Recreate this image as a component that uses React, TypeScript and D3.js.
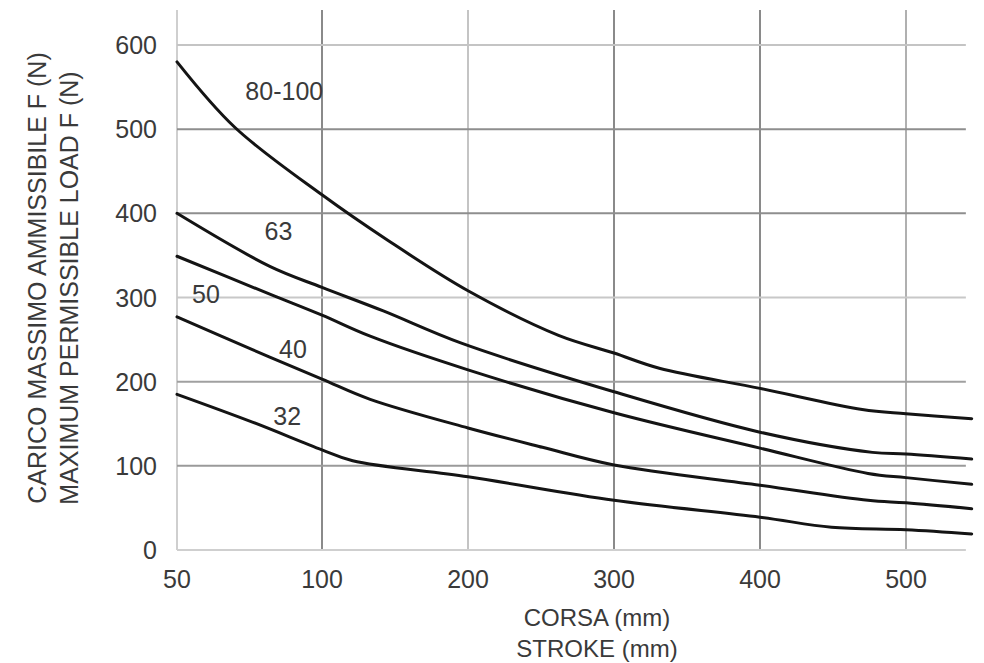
import React from "react";
import * as d3 from "d3";

const xTicks = [50, 100, 200, 300, 400, 500];
const yTicks = [0, 100, 200, 300, 400, 500, 600];

const strokes80 = [50, 70, 100, 145, 200, 262, 300, 331, 400, 470, 500, 545];
const load80 = [580, 502, 422, 368, 308, 255, 234, 216, 192, 167, 162, 156];

const strokes63 = [50, 82, 100, 142, 195, 300, 400, 477, 500, 545];
const load63 = [400, 337, 312, 284, 246, 188, 140, 116, 114, 108];

const strokes50 = [50, 82, 100, 133, 200, 300, 400, 474, 500, 545];
const load50 = [349, 304, 279, 254, 214, 163, 121, 91, 86, 78];

const strokes40 = [50, 76, 100, 133, 200, 251, 300, 400, 474, 500, 545];
const load40 = [277, 238, 203, 179, 145, 122, 101, 77, 59, 56, 49];

const strokes32 = [50, 76, 100, 121, 200, 300, 400, 449, 500, 545];
const load32 = [185, 152, 119, 106, 87, 59, 39, 27, 24, 19];

const seriesNames = ["80-100", "63", "50", "40", "32"];
// label anchor positions in data units (stroke, load)
const labelStroke = [87, 85, 60, 90, 88];
const labelLoad = [535, 368, 293, 228, 148];

const yTitle1 = "CARICO MASSIMO AMMISSIBILE F (N)";
const yTitle2 = "MAXIMUM PERMISSIBLE LOAD F (N)";
const xTitle1 = "CORSA (mm)";
const xTitle2 = "STROKE (mm)";

const W = 984;
const H = 663;

export default function App() {
  const x = d3
    .scaleLinear()
    .domain([50, 100, 200, 300, 400, 500])
    .range([177, 322, 468, 614, 760, 906]);
  const y = d3.scaleLinear().domain([0, 600]).range([550, 45]);

  const xMax = 541;
  const topY = 10;

  const series = [
    { s: strokes80, v: load80 },
    { s: strokes63, v: load63 },
    { s: strokes50, v: load50 },
    { s: strokes40, v: load40 },
    { s: strokes32, v: load32 },
  ];

  const line = d3
    .line<[number, number]>()
    .x((d) => x(d[0]))
    .y((d) => y(d[1]))
    .curve(d3.curveCatmullRom.alpha(0.5));

  const hColor: Record<number, string> = {
    0: "#cfcfcf",
    100: "#9a9a9a",
    200: "#a0a0a0",
    300: "#c8c8c8",
    400: "#8e8e8e",
    500: "#8e8e8e",
    600: "#c4c4c4",
  };
  const vColor: Record<number, string> = {
    50: "#cfcfcf",
    100: "#8a8a8a",
    200: "#c4c4c4",
    300: "#8a8a8a",
    400: "#8a8a8a",
    500: "#b0b0b0",
  };

  const font = "'Liberation Sans', Arial, Helvetica, sans-serif";
  const textFill = "#3a3a3a";

  return (
    <svg
      width={W}
      height={H}
      viewBox={`0 0 ${W} ${H}`}
      style={{ position: "absolute", left: 0, top: 0, background: "#fff" }}
      fontFamily={font}
    >
      <rect x={0} y={0} width={W} height={H} fill="#fff" />
      {xTicks.map((t) => (
        <line
          key={"v" + t}
          x1={x(t)}
          x2={x(t)}
          y1={topY}
          y2={y(0)}
          stroke={vColor[t]}
          strokeWidth={2}
        />
      ))}
      {yTicks.map((t) => (
        <line
          key={"h" + t}
          x1={x(50)}
          x2={x(xMax)}
          y1={y(t)}
          y2={y(t)}
          stroke={hColor[t]}
          strokeWidth={2}
        />
      ))}
      {series.map((sr, i) => (
        <path
          key={"c" + i}
          d={line(sr.s.map((s, j) => [s, sr.v[j]] as [number, number])) || ""}
          fill="none"
          stroke="#141414"
          strokeWidth={3}
          strokeLinejoin="round"
          strokeLinecap="round"
        />
      ))}
      {seriesNames.map((n, i) => (
        <text
          key={"l" + i}
          x={x(labelStroke[i])}
          y={y(labelLoad[i])}
          textAnchor="middle"
          fontSize={25}
          fill={textFill}
        >
          {n}
        </text>
      ))}
      {yTicks.map((t) => (
        <text
          key={"yt" + t}
          x={157}
          y={y(t) + 9}
          textAnchor="end"
          fontSize={25}
          fill={textFill}
        >
          {t}
        </text>
      ))}
      {xTicks.map((t) => (
        <text
          key={"xt" + t}
          x={x(t)}
          y={588}
          textAnchor="middle"
          fontSize={25}
          fill={textFill}
        >
          {t}
        </text>
      ))}
      <text x={597} y={626} textAnchor="middle" fontSize={24} fill={textFill}>
        {xTitle1}
      </text>
      <text x={597} y={657} textAnchor="middle" fontSize={24} fill={textFill}>
        {xTitle2}
      </text>
      <text
        transform={`translate(46,278) rotate(-90)`}
        textAnchor="middle"
        fontSize={25}
        fill={textFill}
      >
        {yTitle1}
      </text>
      <text
        transform={`translate(78,288) rotate(-90)`}
        textAnchor="middle"
        fontSize={25}
        fill={textFill}
      >
        {yTitle2}
      </text>
    </svg>
  );
}
